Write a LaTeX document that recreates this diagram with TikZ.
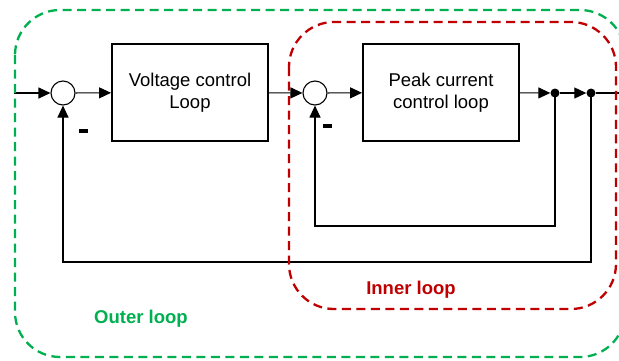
\documentclass[tikz,border=0pt]{standalone}
\usepackage{fontspec}
\setmainfont{Liberation Sans}
\usetikzlibrary{arrows.meta}
\definecolor{outergreen}{HTML}{00B050}
\definecolor{innerred}{HTML}{C00000}
\begin{document}
\begin{tikzpicture}[x=1pt,y=-1pt,
 sig/.style={line width=1.1pt},
 arr/.style={sig,-{Triangle[length=12pt,width=11pt]}},
 sumnode/.style={circle,draw,line width=1.1pt,minimum size=24pt,inner sep=0pt},
 block/.style={draw,line width=1.9pt,minimum width=156pt,minimum height=97pt,align=center,font=\fontsize{18.5}{22}\selectfont},
 dotnode/.style={circle,fill,inner sep=0pt,minimum size=9pt},
 loopbox/.style={line width=2.3pt,dash pattern=on 9pt off 5.5pt,rounded corners=45pt},
 minus/.style={fill,inner sep=0pt,minimum width=9pt,minimum height=3.2pt},
 looplabel/.style={font=\fontsize{18.5}{22}\selectfont\bfseries,inner sep=0pt}]
\useasboundingbox (0,0) rectangle (619,360);
\clip (0,0) rectangle (619,360);
\coordinate (in) at (14,93);
\node[sumnode] (s1) at (63,93) {};
\node[block] (b1) at (190,92.5) {Voltage control\\Loop};
\node[sumnode] (s2) at (315,93) {};
\node[block] (b2) at (441,92.5) {Peak current\\control loop};
\node[dotnode] (d1) at (555,93) {};
\node[dotnode] (d2) at (591,93) {};
\coordinate (out) at (622,93);
\draw[arr] (in) -- (s1);
\draw[arr] (s1) -- (b1);
\draw[arr] (b1) -- (s2);
\draw[arr] (s2) -- (b2);
\draw[arr] (b2) -- (d1);
\draw[arr] (d1) -- (d2);
\draw[sig] (d2) -- (out);
\draw[arr] (d1.center) -- (555,226) -| (s2);
\draw[arr] (d2.center) -- (591,262) -| (s1);
\node[minus] (m1) at (83,131) {};
\node[minus] (m2) at (327,126) {};
\draw[loopbox,outergreen] (15,10) rectangle (625,357);
\draw[loopbox,innerred] (289,22) rectangle (616,309);
\node[looplabel,text=innerred] (il) at (411,290) {Inner loop};
\node[looplabel,text=outergreen] (ol) at (141,319) {Outer loop};
\end{tikzpicture}
\end{document}
